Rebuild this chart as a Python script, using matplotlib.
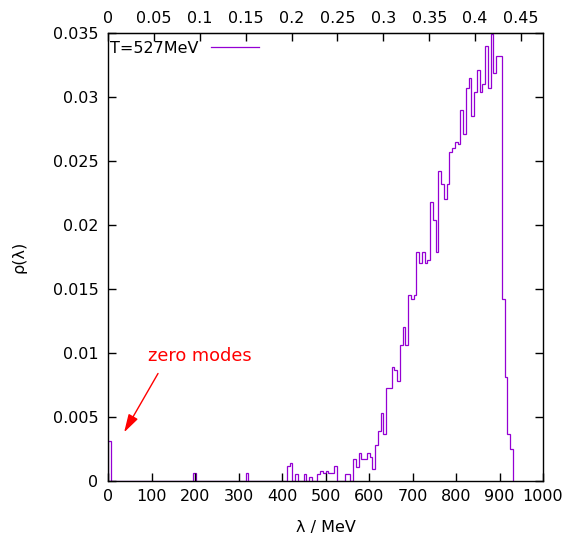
import numpy as np
import matplotlib
matplotlib.use('Agg')
import matplotlib.pyplot as plt
from matplotlib.ticker import FormatStrFormatter

# ---- data ----
a_inv_mev = 2110.0          # conversion lattice units -> MeV (top axis)
bin_width_lat = 0.003       # histogram bin width in lattice units
series_label = "T=527MeV"

low_bins = [0, 31, 50, 65, 66, 68, 71, 73, 76, 77, 78, 79, 80, 81, 82, 86, 87]
low_rho = [0.0031, 0.0006, 0.0006, 0.00117, 0.0014, 0.00057, 0.00057, 0.0003,
           0.00057, 0.0008, 0.0006, 0.0008, 0.0006, 0.0006, 0.00117, 0.00057, 0.00057]

high_start = 89
high_rho = [0.0017, 0.0011, 0.0022, 0.0017, 0.0017, 0.0022, 0.0019, 0.0009,
            0.0028, 0.0039, 0.0053, 0.0037, 0.0073, 0.0073, 0.0089, 0.0087,
            0.0078, 0.0106, 0.0120, 0.0106, 0.0145, 0.0142, 0.0145, 0.0179,
            0.0170, 0.0179, 0.0170, 0.0173, 0.0218, 0.0204, 0.0179, 0.0242,
            0.0232, 0.0220, 0.0232, 0.0257, 0.0260, 0.0265, 0.0263, 0.0290,
            0.0271, 0.0307, 0.0315, 0.0285, 0.0304, 0.0321, 0.0304, 0.0310,
            0.0340, 0.0307, 0.0349, 0.0319, 0.0332, 0.0332, 0.0142, 0.0081,
            0.0037, 0.0025]

x_ticks = [0, 100, 200, 300, 400, 500, 600, 700, 800, 900, 1000]
y_ticks = [0, 0.005, 0.01, 0.015, 0.02, 0.025, 0.03, 0.035]
top_ticks = [0, 0.05, 0.1, 0.15, 0.2, 0.25, 0.3, 0.35, 0.4, 0.45]

annot_text = "zero modes"
annot_text_pos = (92, 0.0098)
annot_tail = (115, 0.0084)
annot_head = (37, 0.0038)

# ---- build histogram ----
n_bins = high_start + len(high_rho)
rho = np.zeros(n_bins)
rho[low_bins] = low_rho
rho[high_start:] = high_rho
edges = np.arange(n_bins + 1) * bin_width_lat * a_inv_mev

plt.rcParams['font.family'] = ['DejaVu Sans']
fs = 11.5

fig = plt.figure(figsize=(5.67, 5.34), dpi=100)
ax = fig.add_axes([108/567, 53/534, 435/567, 448/534])

ax.stairs(rho, edges, color='#9400D3', lw=0.9, label=series_label)

ax.set_xlim(0, 1000)
ax.set_ylim(0, 0.035)
ax.set_xticks(x_ticks)
ax.set_yticks(y_ticks)
ax.yaxis.set_major_formatter(FormatStrFormatter('%g'))
ax.xaxis.set_major_formatter(FormatStrFormatter('%g'))
ax.tick_params(axis='x', direction='in', length=6, width=1, labelsize=fs, pad=6, top=False)
ax.tick_params(axis='y', direction='in', length=6, width=1, labelsize=fs, pad=7,
               left=True, right=True)
for s in ax.spines.values():
    s.set_linewidth(1.0)

sec = ax.secondary_xaxis('top', functions=(lambda x: x / a_inv_mev, lambda x: x * a_inv_mev))
sec.set_xticks(top_ticks)
sec.xaxis.set_major_formatter(FormatStrFormatter('%g'))
sec.tick_params(direction='in', length=6, width=1, labelsize=fs, pad=5)

ax.set_xlabel('λ / MeV', fontsize=fs, labelpad=11)
ax.set_ylabel('ρ(λ)', fontsize=fs, labelpad=19)

leg = ax.legend(loc='upper left', bbox_to_anchor=(0.005, 0.982), frameon=False,
                markerfirst=False, fontsize=fs, handlelength=3.0,
                borderaxespad=0.0, borderpad=0.0, handletextpad=0.75)

ax.text(annot_text_pos[0], annot_text_pos[1], annot_text, color='red',
        fontsize=12.8, va='center', ha='left')
ax.annotate('', xy=annot_head, xytext=annot_tail,
            arrowprops=dict(arrowstyle='-|>,head_length=1.1,head_width=0.32',
                            color='red', lw=1.0, shrinkA=0, shrinkB=0))

fig.savefig('out.png', dpi=100)
